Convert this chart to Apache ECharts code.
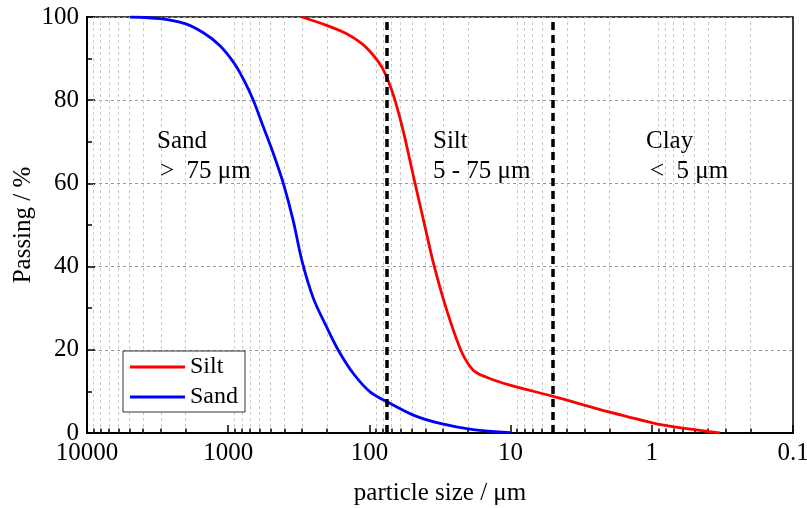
<!DOCTYPE html>
<html>
<head>
<meta charset="utf-8">
<script src="https://cdn.jsdelivr.net/npm/echarts@6/dist/echarts.min.js"></script>
<style>html,body{margin:0;padding:0;background:#fff;}#c{width:807px;height:508px;}</style>
</head>
<body>
<div id="c"></div>
<script>
// ---- data ----
const sizeTickLabels = ['10000', '1000', '100', '10', '1', '0.1'];
const passingTicks = [0, 20, 40, 60, 80, 100];

const sandSize =    [4955, 3040, 2023, 1500, 1143, 895, 760, 664, 564, 479, 407, 346, 301, 249, 201, 166, 130, 99, 75, 48.9, 31.6, 18.4, 10];
const sandPassing = [100, 99.6, 98.4, 96.2, 93.1, 88.6, 84.3, 80, 73.6, 67.2, 60, 51.0, 41.5, 32.3, 25.5, 19.9, 14.3, 9.9, 7.5, 4.3, 2.3, 0.8, 0.1];

const siltSize =    [301, 201, 145, 113, 93.8, 81.8, 73.5, 65.9, 57.5, 47.5, 40.4, 35.3, 29.1, 22.5, 18.4, 14.8, 10.1, 5, 1.98, 0.975, 0.567, 0.329];
const siltPassing = [100, 98.0, 96.0, 93.6, 90.8, 88.0, 84.6, 80, 72.5, 60, 49.6, 41.0, 30.8, 19.9, 15.1, 13.4, 11.5, 8.8, 5.0, 2.4, 1.05, 0];

const boundarySizes = [75, 5];          // µm: sand/silt and silt/clay limits
const decades = [1000, 100, 10, 1, 0.1];
const minorMultipliers = [2, 3, 4, 5, 6, 7, 8, 9];

// ---- build ----
const FONT = '"Liberation Serif", "Times New Roman", serif';
const minorValues = [];
decades.forEach(d => minorMultipliers.forEach(m => minorValues.push(+(d * m).toPrecision(3))));

const zip = (xs, ys) => xs.map((x, i) => [x, ys[i]]);
const txt = (s, left, top) => ({type: 'text', left, top, z: 10, style: {text: s, font: '25px ' + FONT, fill: '#000'}});

const chart = echarts.init(document.getElementById('c'), null, {renderer: 'canvas'});
chart.setOption({
  animation: false,
  backgroundColor: '#fff',
  grid: {left: 87, right: 14, top: 17, bottom: 75, containLabel: false, outerBoundsMode: 'none',
    show: true, borderColor: '#000', borderWidth: 1.5, backgroundColor: 'transparent'},
  xAxis: {
    type: 'log', logBase: 10, min: 0.1, max: 10000, inverse: true,
    name: 'particle size / μm', nameLocation: 'middle', nameGap: 48, nameMoveOverlap: false,
    nameTextStyle: {fontFamily: FONT, fontSize: 25, color: '#000'},
    axisLine: {lineStyle: {color: '#000', width: 2}},
    axisTick: {inside: true, length: 8, lineStyle: {color: '#000', width: 1.5}},
    axisLabel: {fontFamily: FONT, fontSize: 25, color: '#000', margin: 8, hideOverlap: false,
      formatter: v => { const s = String(+(+v).toPrecision(1)); return sizeTickLabels.includes(s) ? s : ''; }},
    splitLine: {show: false}
  },
  yAxis: {
    type: 'value', min: 0, max: 100, interval: 20,
    name: 'Passing / %', nameLocation: 'middle', nameGap: 51, nameMoveOverlap: false,
    nameTextStyle: {fontFamily: FONT, fontSize: 25, color: '#000'},
    axisLine: {show: true, lineStyle: {color: '#000', width: 2}},
    axisTick: {inside: true, length: 8, lineStyle: {color: '#000', width: 1.5}},
    minorTick: {show: true, splitNumber: 2, length: 5, lineStyle: {color: '#000', width: 1.5}},
    axisLabel: {fontFamily: FONT, fontSize: 25, color: '#000', margin: 8,
      formatter: v => passingTicks.includes(v) ? String(v) : ''},
    splitLine: {show: true, lineStyle: {color: '#999', type: [3, 3], width: 1}}
  },
  legend: {
    data: [{name: 'Silt', icon: 'rect'}, {name: 'Sand', icon: 'rect'}],
    orient: 'vertical', left: 123, top: 351,
    padding: [4, 7, 3, 7], itemGap: 6, itemWidth: 55, itemHeight: 3,
    borderColor: '#333', borderWidth: 1, backgroundColor: '#fff', z: 8,
    textStyle: {fontFamily: FONT, fontSize: 24, color: '#000'}
  },
  graphic: [
    txt('Sand', 157, 129),
    txt('>  75 μm', 160, 159),
    txt('Silt', 433, 129),
    txt('5 - 75 μm', 433, 159),
    txt('Clay', 646, 129),
    txt('<  5 μm', 650, 159)
  ],
  series: [
    {
      name: 'minorgrid', type: 'line', data: [], silent: true, z: 1,
      markLine: {
        silent: true, symbol: 'none', animation: false, label: {show: false}, z: 1,
        lineStyle: {color: '#c8c8c8', type: [3, 3], width: 1},
        emphasis: {disabled: true},
        data: minorValues.map(v => ({xAxis: v}))
      }
    },
    {
      name: 'minorticks', type: 'line', data: [], silent: true, z: 2,
      markLine: {
        silent: true, symbol: 'none', animation: false, label: {show: false}, z: 2,
        lineStyle: {color: '#000', type: 'solid', width: 1.5},
        emphasis: {disabled: true},
        data: minorValues.map(v => [{coord: [v, 0]}, {coord: [v, 1.1]}])
      }
    },
    {
      name: 'Silt', type: 'line', data: zip(siltSize, siltPassing), smooth: 0.3,
      symbol: 'none', lineStyle: {color: '#ff0000', width: 2.8}, itemStyle: {color: '#ff0000'}, z: 4
    },
    {
      name: 'Sand', type: 'line', data: zip(sandSize, sandPassing), smooth: 0.3,
      symbol: 'none', lineStyle: {color: '#0000ff', width: 2.8}, itemStyle: {color: '#0000ff'}, z: 4
    },
    {
      name: 'bounds', type: 'line', data: [], silent: true, z: 6,
      markLine: {
        silent: true, symbol: 'none', animation: false, label: {show: false}, z: 6,
        lineStyle: {color: '#000', type: [8, 5], width: 3.5},
        emphasis: {disabled: true},
        data: boundarySizes.map(v => ({xAxis: v}))
      }
    }
  ]
});
</script>
</body>
</html>
